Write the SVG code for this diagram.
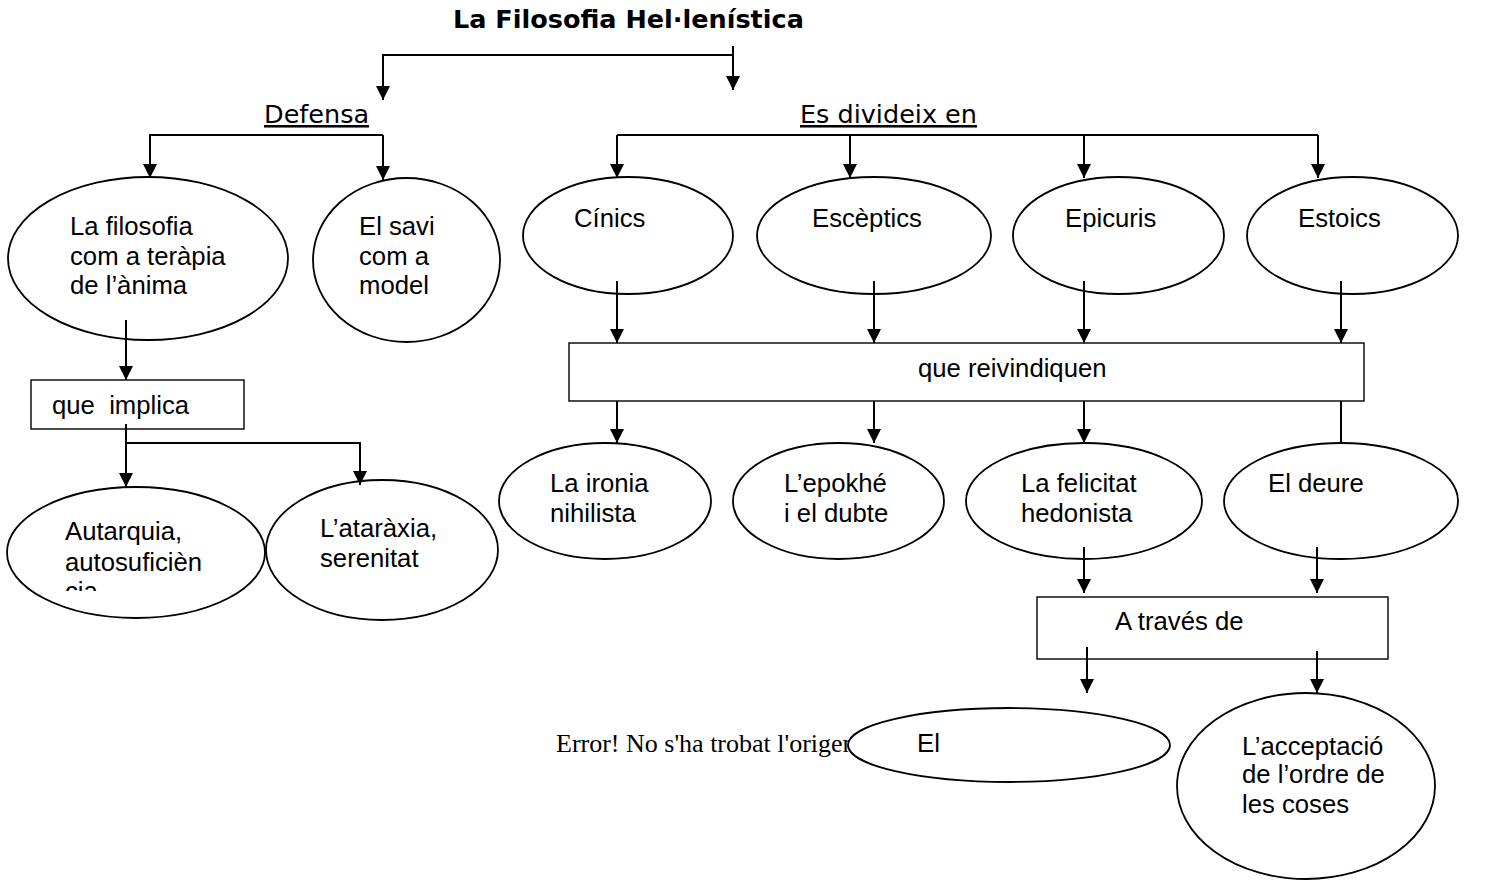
<svg xmlns="http://www.w3.org/2000/svg" width="1495" height="882" viewBox="0 0 1495 882">
<style>
.bg{fill:#fff}
.el{fill:#fff;stroke:#000;stroke-width:1.8}
.bx{fill:#fff;stroke:#000;stroke-width:1.4}
.t{font-family:"Liberation Sans",Arial,sans-serif;font-size:25.7px;fill:#000}
.v{font-family:"DejaVu Sans",Verdana,sans-serif;font-size:25.5px;fill:#000}
.ttl{font-family:"DejaVu Sans",Verdana,sans-serif;font-size:25.5px;font-weight:bold;fill:#000}
.err{font-family:"Liberation Serif","Times New Roman",serif;font-size:26px;fill:#000}
.c{fill:none;stroke:#000;stroke-width:2}
.a{marker-end:url(#ah)}
</style>
<defs>
<marker id="ah" markerUnits="userSpaceOnUse" markerWidth="14" markerHeight="14" refX="14" refY="7" orient="auto" viewBox="0 0 14 14">
<path d="M0,0 L14,7 L0,14 z" fill="#000"/>
</marker>
<clipPath id="clipA"><rect x="0" y="0" width="300" height="591"/></clipPath>
</defs>
<rect class="bg" x="0" y="0" width="1495" height="882"/>

<g id="title"><text class="ttl" x="453" y="28">La Filosofia Hel·lenística</text></g>
<g id="defensa"><text class="v" x="264" y="123" text-decoration="underline">Defensa</text></g>
<g id="divideix"><text class="v" x="800" y="123" text-decoration="underline">Es divideix en</text></g>

<g id="n-filosofia">
<ellipse class="el" cx="148" cy="258.5" rx="140" ry="81.5"/>
<text class="t" x="70" y="235">La filosofia</text>
<text class="t" x="70" y="265">com a teràpia</text>
<text class="t" x="70" y="294">de l’ànima</text>
</g>
<g id="n-savi">
<ellipse class="el" cx="406.5" cy="260" rx="93.5" ry="82"/>
<text class="t" x="359" y="235">El savi</text>
<text class="t" x="359" y="265">com a</text>
<text class="t" x="359" y="294">model</text>
</g>
<g id="n-cinics">
<ellipse class="el" cx="628" cy="235.5" rx="105" ry="58.5"/>
<text class="t" x="574" y="227">Cínics</text>
</g>
<g id="n-esceptics">
<ellipse class="el" cx="874" cy="235.5" rx="117" ry="58.5"/>
<text class="t" x="812" y="227">Escèptics</text>
</g>
<g id="n-epicuris">
<ellipse class="el" cx="1118.5" cy="235.5" rx="105.5" ry="58.5"/>
<text class="t" x="1065" y="227">Epicuris</text>
</g>
<g id="n-estoics">
<ellipse class="el" cx="1352.5" cy="235.5" rx="105.5" ry="58.5"/>
<text class="t" x="1298" y="227">Estoics</text>
</g>

<g id="n-reivindiquen">
<rect class="bx" x="569" y="343" width="795" height="58"/>
<text class="t" x="918" y="377">que reivindiquen</text>
</g>
<g id="n-implica">
<rect class="bx" x="31" y="380" width="213" height="49"/>
<text class="t" x="52" y="414" xml:space="preserve">que  implica</text>
</g>

<g id="n-autarquia">
<ellipse class="el" cx="136" cy="552.5" rx="129" ry="65.5"/>
<text class="t" x="65" y="540">Autarquia,</text>
<text class="t" x="65" y="571">autosuficièn</text>
<text class="t" x="65" y="600" clip-path="url(#clipA)">cia</text>
</g>
<g id="n-ataraxia">
<ellipse class="el" cx="382" cy="550" rx="116" ry="70"/>
<text class="t" x="320" y="537">L’ataràxia,</text>
<text class="t" x="320" y="567">serenitat</text>
</g>

<g id="n-ironia">
<ellipse class="el" cx="605" cy="501" rx="106" ry="58"/>
<text class="t" x="550" y="492">La ironia</text>
<text class="t" x="550" y="522">nihilista</text>
</g>
<g id="n-epokhe">
<ellipse class="el" cx="838.5" cy="501" rx="105.5" ry="58"/>
<text class="t" x="784" y="492">L’epokhé</text>
<text class="t" x="784" y="522">i el dubte</text>
</g>
<g id="n-felicitat">
<ellipse class="el" cx="1084" cy="501" rx="118" ry="58"/>
<text class="t" x="1021" y="492">La felicitat</text>
<text class="t" x="1021" y="522">hedonista</text>
</g>
<g id="n-deure">
<ellipse class="el" cx="1341" cy="501" rx="117" ry="58"/>
<text class="t" x="1268" y="492">El deure</text>
</g>

<g id="n-traves">
<rect class="bx" x="1037" y="597" width="351" height="62"/>
<text class="t" x="1115" y="630">A través de</text>
</g>

<g id="error-text"><text class="err" x="556" y="752">Error! No s'ha trobat l'origen</text></g>
<g id="n-el">
<ellipse class="el" cx="1009" cy="745" rx="161" ry="37"/>
<text class="t" x="917" y="752">El</text>
</g>
<g id="n-acceptacio">
<ellipse class="el" cx="1306" cy="786" rx="129" ry="93"/>
<text class="t" x="1242" y="755">L’acceptació</text>
<text class="t" x="1242" y="783">de l’ordre de</text>
<text class="t" x="1242" y="813">les coses</text>
</g>

<g id="connectors">
<path class="c a" d="M733,46 V90"/>
<path class="c a" d="M733,55 H383 V100"/>
<path class="c a" d="M383,135 H150 V178"/>
<path class="c a" d="M383,135 V180"/>
<path class="c" d="M617,135 H1318"/>
<path class="c a" d="M617,135 V178"/>
<path class="c a" d="M850,135 V178"/>
<path class="c a" d="M1084,135 V178"/>
<path class="c a" d="M1318,135 V178"/>
<path class="c a" d="M126,320 V380"/>
<path class="c a" d="M126,424 V487"/>
<path class="c a" d="M126,443 H360 V485"/>
<path class="c a" d="M617,281 V343"/>
<path class="c a" d="M874,281 V343"/>
<path class="c a" d="M1084,281 V343"/>
<path class="c a" d="M1341,281 V343"/>
<path class="c a" d="M617,401 V443"/>
<path class="c a" d="M874,401 V443"/>
<path class="c a" d="M1084,401 V443"/>
<path class="c" d="M1341,401 V443"/>
<path class="c a" d="M1084,547 V593"/>
<path class="c a" d="M1317,547 V593"/>
<path class="c a" d="M1087,647 V693"/>
<path class="c a" d="M1317,651 V693"/>
</g>
</svg>
